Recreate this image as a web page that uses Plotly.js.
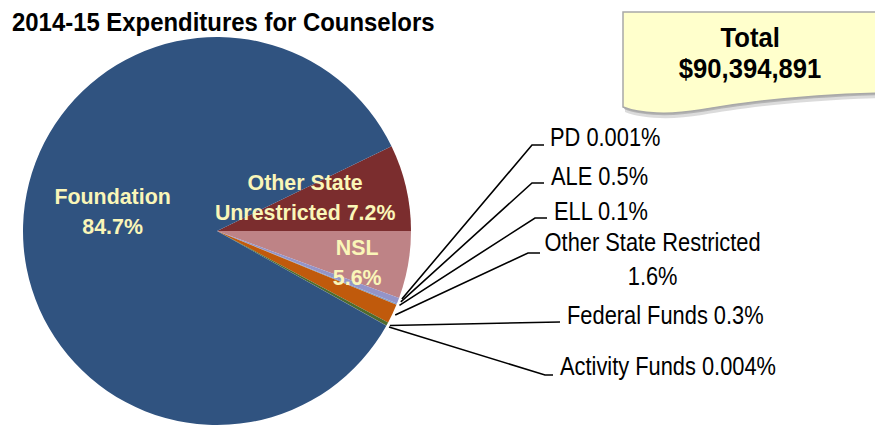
<!DOCTYPE html>
<html><head><meta charset="utf-8">
<script src="https://cdn.plot.ly/plotly-3.0.1.min.js"></script>
<style>html,body{margin:0;padding:0;background:#fff;} #chart{width:875px;height:426px;}</style>
</head><body><div id="chart"></div>
<script>
// ---- data ----
const categories = ['Other State Unrestricted','NSL','PD','ALE','ELL','Other State Restricted','Federal Funds','Activity Funds','Foundation'];
const percentValues = [7.2, 5.6, 0.001, 0.5, 0.1, 1.6, 0.3, 0.004, 84.7];
const displayNames = ['Other State<br>Unrestricted', 'NSL<br>', 'PD', 'ALE', 'ELL', 'Other State Restricted<br>', 'Federal Funds', 'Activity Funds', 'Foundation<br>'];
const sliceColors = ['#7B2D2E', '#BE8386', '#8F8FC2', '#9494C8', '#7E9CCB', '#C05A0C', '#4E6B2E', '#5A5A5A', '#305380'];
const chartTitle = '2014-15 Expenditures for Counselors';
const totalLabel = 'Total';
const totalAmount = '$90,394,891';

// ---- layout geometry (pixels) ----
const W = 875, H = 426;
const pieBox = {x0: 23, x1: 411, y0: 37, y1: 425};
const rotationDeg = 90 - 25.9;
const px = x => x / W, py = y => 1 - y / H;
const FONT = 'Liberation Sans, Arial, sans-serif';

// inside labels: index -> centre position
const insidePos = {0: [305, 197], 1: [357, 262], 8: [112, 211]};
// outside labels: index -> [elbowX, elbowY, tickEndX, textX, textY, anchor]
const outsidePos = {
  2: [532, 145, 544, 548, 137, 'left'],
  3: [532, 183, 544, 549, 176, 'left'],
  4: [535, 218, 547, 552, 211, 'left'],
  5: [528, 253, 540, 652, 259, 'center'],
  6: [560, 322, 560, 565, 315, 'left'],
  7: [545, 375, 553, 558, 366, 'left']
};

const labelText = i => {
  const n = displayNames[i];
  return n.endsWith('<br>') ? n + percentValues[i] + '%' : n + ' ' + percentValues[i] + '%';
};

const cx = (pieBox.x0 + pieBox.x1) / 2, cy = (pieBox.y0 + pieBox.y1) / 2;
const R = Math.min(pieBox.x1 - pieBox.x0, pieBox.y1 - pieBox.y0) / 2;
const total = percentValues.reduce((a, b) => a + b, 0);

const annotations = [];
const squeezeFactors = [];
const shapes = [];

// shadow + callout box for total
const boxPath = (dx, dy) => {
  const p = (x, y) => px(x + dx) + ',' + py(y + dy);
  return 'M' + p(623, 12) + ' L' + p(880, 12) + ' L' + p(880, 93) +
    ' C' + p(800, 95) + ' ' + p(740, 103) + ' ' + p(700, 110) +
    ' C' + p(670, 115) + ' ' + p(640, 114) + ' ' + p(623, 107) + ' Z';
};
shapes.push({type: 'path', xref: 'paper', yref: 'paper', path: boxPath(2, 5), fillcolor: 'rgba(90,90,90,0.22)', line: {width: 0}});
shapes.push({type: 'path', xref: 'paper', yref: 'paper', path: boxPath(1, 2), fillcolor: 'rgba(90,90,90,0.3)', line: {width: 0}});
shapes.push({type: 'path', xref: 'paper', yref: 'paper', path: boxPath(0, 0), fillcolor: '#FFFFCC', line: {color: '#A8A8A8', width: 1.5}});
[[totalLabel, 37.5], [totalAmount, 68.5]].forEach(([t, y]) => {
  annotations.push({xref: 'paper', yref: 'paper', x: px(750), y: py(y), xanchor: 'center', yanchor: 'middle',
    text: '<b>' + t + '</b>', showarrow: false, font: {family: FONT, size: 27, color: '#000'}});
  squeezeFactors.push(0.95);
});

let cum = 0;
percentValues.forEach((v, i) => {
  const midFrac = (cum + v / 2) / total;
  cum += v;
  if (insidePos[i]) {
    const [x, y] = insidePos[i];
    annotations.push({xref: 'paper', yref: 'paper', x: px(x), y: py(y), xanchor: 'center', yanchor: 'middle',
      text: '<b>' + labelText(i) + '</b>', showarrow: false,
      font: {family: FONT, size: 23, color: '#FAF6B8'}});
    squeezeFactors.push(0.93);
  }
  if (outsidePos[i]) {
    const a = (rotationDeg + 360 * midFrac) * Math.PI / 180;
    const sx = cx + (R + 3) * Math.sin(a), sy = cy - (R + 3) * Math.cos(a);
    const [ex, ey, tx, lx, ly, anc] = outsidePos[i];
    shapes.push({type: 'path', xref: 'paper', yref: 'paper',
      path: 'M' + px(sx) + ',' + py(sy) + ' L' + px(ex) + ',' + py(ey) + ' L' + px(tx) + ',' + py(ey),
      line: {color: '#000', width: 1.6}});
    annotations.push({xref: 'paper', yref: 'paper', x: px(lx), y: py(ly), xanchor: anc, yanchor: 'middle',
      align: 'center', text: labelText(i), showarrow: false,
      font: {family: FONT, size: 26, color: '#000'}});
    squeezeFactors.push(0.84);
  }
});

const data = [{
  type: 'pie',
  labels: categories,
  values: percentValues,
  sort: false,
  direction: 'clockwise',
  rotation: rotationDeg,
  marker: {colors: sliceColors, line: {width: 0}},
  textinfo: 'none',
  hoverinfo: 'label+percent',
  domain: {x: [px(pieBox.x0), px(pieBox.x1)], y: [py(pieBox.y1), py(pieBox.y0)]},
  showlegend: false
}];

const layout = {
  width: W, height: H,
  margin: {l: 0, r: 0, t: 0, b: 0},
  paper_bgcolor: '#fff',
  showlegend: false,
  title: {text: '<b>' + chartTitle + '</b>', x: px(12), xanchor: 'left', y: py(22), yanchor: 'middle',
    font: {family: FONT, size: 26, color: '#000'}},
  shapes: shapes,
  annotations: annotations
};

// narrow the (Arial-metric) text horizontally to mimic the condensed face of the original
function squeeze(el, s, anchor) {
  if (!el) return;
  const bb = el.getBBox();
  const ax = anchor === 'left' ? bb.x : anchor === 'right' ? bb.x + bb.width : bb.x + bb.width / 2;
  const prev = el.getAttribute('transform') || '';
  el.setAttribute('transform', prev + ' translate(' + ax + ',0) scale(' + s + ',1) translate(' + (-ax) + ',0)');
}

Plotly.newPlot('chart', data, layout, {displayModeBar: false, staticPlot: true}).then(gd => {
  gd.querySelectorAll('g.annotation').forEach(g => {
    const k = +g.getAttribute('data-index');
    squeeze(g.querySelector('.annotation-text'), squeezeFactors[k], annotations[k].xanchor);
  });
  squeeze(gd.querySelector('.gtitle'), 0.92, 'left');
});
</script></body></html>
